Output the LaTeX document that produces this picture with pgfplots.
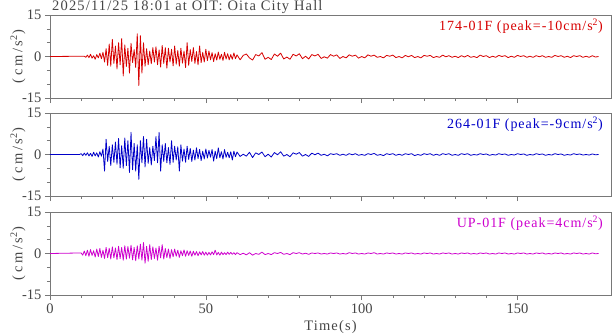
\documentclass[border=0pt]{standalone}
\usepackage{pgfplots}
\pgfplotsset{compat=1.18}
\usepackage{fontspec}
\setmainfont{Liberation Serif}
\newfontfamily\wide[LetterSpace=8]{Liberation Serif}
\newfontfamily\wider[LetterSpace=18]{Liberation Serif}
\newfontfamily\lab[LetterSpace=7]{Liberation Serif}
\definecolor{axgray}{RGB}{120,120,120}
\definecolor{txtgray}{RGB}{70,70,70}
\definecolor{sred}{RGB}{215,0,0}
\definecolor{sblue}{RGB}{0,0,200}
\definecolor{smag}{RGB}{205,0,205}

\pgfplotsset{
  seis/.style={
    width=561pt, height=83pt, scale only axis,
    anchor=north west,
    xmin=0, xmax=180, ymin=-15, ymax=15,
    xtick={0,50,100,150}, minor x tick num=4,
    ytick={-15,0,15}, yticklabels={-15,0,15}, minor y tick num=2,
    xtick pos=bottom, ytick pos=left,
    tick align=outside,
    major tick length=5pt, minor tick length=3pt,
    axis line style={axgray, line width=0.7pt},
    every tick/.style={axgray, line width=0.6pt},
    tick label style={txtgray, font=\fontsize{14.5}{16}\selectfont},
    ylabel={(cm/s\textsuperscript{2})},
    ylabel style={txtgray, font=\wider\fontsize{14.5}{16}\selectfont,
      at={(axis description cs:-0.057,0.5)}, anchor=center},
    clip=false,
  },
}
\tikzset{
  trace/.style={line width=0.8pt, line join=round},
  tag/.style={anchor=north east, font=\lab\fontsize{14}{16}\selectfont, inner sep=0},
}

\begin{document}
\begin{tikzpicture}
% top panel: 174-01F
\begin{axis}[seis, at={(0,0)}, xticklabels={}]
\addplot[trace, sred] coordinates {
(0,0)(11,0.1)(11.5,-0.3)(12,0.5)(12.5,-0.4)(13,0.8)(13.5,-0.6)(14,0.3)(14.5,-1.0)(15,0.7)(15.5,-0.5)(16,1.2)(16.5,-0.8)
(17,1.5)(17.5,-2.0)(18,2.8)(18.5,-3.2)(19,4.5)(19.5,-3.5)(20,6.2)(20.5,-2.5)(21,3.8)(21.5,-4.5)(22,5.0)(22.5,-3.0)
(23,6.5)(23.5,-7.0)(24,4.2)(24.5,-3.6)(25,3.0)(25.5,-6.0)(26,4.8)(26.5,-2.2)(27,2.5)(27.5,-4.0)(28,8.2)(28.5,-10.5)
(29,7.5)(29.5,-6.0)(30,5.0)(30.5,-3.5)(31,2.8)(31.5,-3.0)(32,2.0)(32.5,-2.6)(33,3.2)(33.5,-2.0)(34,3.5)(34.5,-3.0)
(35,2.4)(35.5,-3.8)(36,4.0)(36.5,-2.5)(37,3.2)(37.5,-4.2)(38,3.0)(38.5,-2.0)(39,2.6)(39.5,-3.4)(40,3.8)(40.5,-2.8)
(41,2.2)(41.5,-3.5)(42,3.0)(42.5,-2.4)(43,2.0)(43.5,-4.0)(44,5.0)(44.5,-3.2)(45,2.5)(45.5,-1.8)(46,3.2)(46.5,-2.5)
(47,1.8)(47.5,-3.0)(48,3.8)(48.5,-2.2)(49,1.5)(49.5,-2.0)(50,2.6)(50.5,-1.5)(51,2.0)(51.5,-1.2)(52,1.4)(52.5,-1.8)
(53,1.0)(53.5,-1.3)(54,1.6)(54.5,-1.0)(55,0.8)(55.5,-1.4)(56,1.5)(56.5,-0.9)(57,1.0)(57.5,-1.2)(58,0.7)(58.5,-1.0)
(59,1.3)(59.5,-0.8)(60,0.6)
(61,-1.2)(62,0.4)(63,0.9)(64,-0.5)(65,-1.3)(66,0.7)(67,0.2)(68,1.4)(69,-1.0)(70,-0.3)(71,-1.1)(72,0.9)(73,0.1)
(74,1.2)(75,-0.9)(76,-0.2)(77,-1.0)(78,0.8)(79,0.2)(80,1.0)(81,-0.8)(82,0.1)(83,-0.9)(84,0.7)(85,0.2)(86,0.8)
(87,-0.7)(88,-0.1)(89,-0.6)(90,0.7)(91,0.1)(92,0.6)(93,-0.7)(94,0.0)(95,-0.5)(96,0.6)(97,0.1)(98,0.5)(99,-0.6)
(100,0.0)(101,-0.5)(102,0.6)(103,0.1)(104,0.5)(105,-0.3)(106,0.0)(107,-0.5)(108,0.4)(109,0.1)(110,0.5)(111,-0.4)
(112,0.0)(113,-0.5)(114,0.4)(115,-0.1)(116,0.4)(117,-0.4)(118,0.0)(119,-0.5)(120,0.4)(121,0.1)(122,0.4)(123,-0.4)
(124,0.0)(125,-0.3)(126,0.5)(127,-0.1)(128,0.3)(129,-0.3)(130,0.1)(131,-0.4)(132,0.3)(133,-0.2)(134,0.4)(135,-0.3)
(136,0.0)(137,-0.4)(138,0.5)(139,0.0)(140,0.3)(141,-0.4)(142,0.1)(143,-0.3)(144,0.4)(145,0.0)(146,0.3)(147,-0.4)
(148,0.1)(149,-0.3)(150,0.4)(151,0.0)(152,0.3)(153,-0.3)(154,0.1)(155,-0.3)(156,0.3)(157,-0.1)(158,0.3)(159,-0.3)
(160,0.0)(161,-0.3)(162,0.4)(163,0.0)(164,0.3)(165,-0.3)(166,0.1)(167,-0.4)(168,0.3)(169,0.0)(170,0.3)(171,-0.3)
(172,0.1)(173,-0.3)(174,0.3)(175,-0.2)(176,0.0)
};
\node[anchor=base west, txtgray, font=\wide\fontsize{14.5}{16}\selectfont, inner sep=0]
  at (axis description cs:0,1) [xshift=2pt, yshift=4pt] {2025/11/25 18:01 at OIT: Oita City Hall};
\node[tag, sred] at (axis description cs:1,1) [xshift=-8pt, yshift=-4pt]
  {174-01F (peak=-10cm/s\textsuperscript{2})};
\end{axis}

% middle panel: 264-01F
\begin{axis}[seis, at={(0,-98pt)}, xticklabels={}]
\addplot[trace, sblue] coordinates {
(0,0)(9.5,0)(10,0.3)(10.5,-0.4)(11,0.5)(11.5,-0.3)(12,0.6)(12.5,-0.5)(13,0.4)(13.5,-0.7)(14,0.8)(14.5,-0.5)(15,0.6)
(15.5,-0.9)(16,1.0)(16.5,-0.6)(17,2.0)(17.5,-6.0)(18,5.5)(18.5,-2.5)(19,3.0)(19.5,-4.0)(20,3.5)(20.5,-2.8)(21,4.5)
(21.5,-3.5)(22,5.8)(22.5,-4.8)(23,3.2)(23.5,-5.0)(24,6.0)(24.5,-4.0)(25,5.0)(25.5,-6.5)(26,8.0)(26.5,-5.5)(27,4.0)
(27.5,-6.0)(28,3.5)(28.5,-9.0)(29,5.0)(29.5,-3.0)(30,6.5)(30.5,-4.5)(31,5.5)(31.5,-3.2)(32,2.5)(32.5,-3.8)(33,3.0)
(33.5,-2.2)(34,6.5)(34.5,-3.0)(35,8.0)(35.5,-6.0)(36,3.5)(36.5,-2.5)(37,4.0)(37.5,-3.0)(38,2.5)(38.5,-3.6)(39,5.0)
(39.5,-2.8)(40,3.0)(40.5,-2.0)(41,2.8)(41.5,-6.0)(42,3.5)(42.5,-2.4)(43,2.0)(43.5,-2.8)(44,3.0)(44.5,-1.8)(45,2.2)
(45.5,-2.5)(46,1.6)(46.5,-2.0)(47,2.4)(47.5,-1.5)(48,1.8)(48.5,-2.2)(49,1.2)(49.5,-1.6)(50,2.0)(50.5,-1.3)(51,1.5)
(51.5,-1.0)(52,1.8)(52.5,-2.4)(53,1.2)(53.5,-1.5)(54,2.4)(54.5,-1.2)(55,1.0)(55.5,-1.6)(56,1.8)(56.5,-1.0)(57,0.8)
(57.5,-1.2)(58,1.0)(58.5,-2.0)(59,1.2)(59.5,-0.8)(60,0.9)
(61,-0.7)(62,0.1)(63,-0.6)(64,0.8)(65,-1.1)(66,0.6)(67,0.0)(68,0.9)(69,-0.8)(70,0.1)(71,-0.9)(72,0.7)(73,-0.1)
(74,1.0)(75,-0.6)(76,0.0)(77,-0.8)(78,0.6)(79,0.1)(80,0.7)(81,-0.6)(82,0.0)(83,-0.7)(84,0.5)(85,-0.1)(86,0.5)
(87,-0.3)(88,0.1)(89,-0.5)(90,0.3)(91,0.0)(92,0.3)(93,-0.3)(94,0.1)(95,-0.3)(96,0.3)(97,-0.1)(98,0.3)(99,-0.3)
(100,0.0)(101,-0.3)(102,0.3)(103,0.0)(104,0.4)(105,-0.3)(106,0.0)(107,-0.4)(108,0.3)(109,0.0)(110,0.3)(111,-0.3)
(112,0.1)(113,-0.3)(114,0.3)(115,0.0)(116,0.3)(117,-0.4)(118,0.0)(119,-0.3)(120,0.3)(121,0.0)(122,0.3)(123,-0.3)
(124,0.1)(125,-0.3)(126,0.3)(127,0.0)(128,0.3)(129,-0.3)(130,0.0)(131,-0.3)(132,0.3)(133,0.0)(134,0.3)(135,-0.3)
(136,0.0)(137,-0.2)(138,0.3)(139,0.0)(140,0.2)(141,-0.3)(142,0.0)(143,-0.2)(144,0.3)(145,0.0)(146,0.2)(147,-0.3)
(148,0.0)(149,-0.2)(150,0.3)(151,0.0)(152,0.2)(153,-0.3)(154,0.0)(155,-0.2)(156,0.3)(157,0.0)(158,0.2)(159,-0.3)
(160,0.0)(161,-0.2)(162,0.3)(163,0.0)(164,0.2)(165,-0.3)(166,0.0)(167,-0.2)(168,0.3)(169,0.0)(170,0.2)(171,-0.2)
(172,0.0)(173,-0.2)(174,0.2)(175,-0.1)(176,0.0)
};
\node[tag, sblue] at (axis description cs:1,1) [xshift=-8pt, yshift=-4pt]
  {264-01F (peak=-9cm/s\textsuperscript{2})};
\end{axis}

% bottom panel: UP-01F
\begin{axis}[seis, at={(0,-197pt)}, xticklabels={0,50,100,150},
  xlabel={Time(s)}, xlabel style={txtgray, font=\wide\fontsize{14.5}{16}\selectfont}]
\addplot[trace, smag] coordinates {
(0,0)(10,0.2)(10.5,-0.6)(11,0.9)(11.5,-0.8)(12,1.2)(12.5,-1.0)(13,1.4)(13.5,-0.7)(14,1.0)(14.5,-1.3)(15,1.6)(15.5,-1.1)
(16,1.8)(16.5,-1.4)(17,1.2)(17.5,-1.8)(18,2.2)(18.5,-1.5)(19,1.9)(19.5,-2.0)(20,2.4)(20.5,-1.6)(21,2.0)(21.5,-2.2)
(22,2.6)(22.5,-1.8)(23,2.2)(23.5,-2.4)(24,2.8)(24.5,-2.0)(25,2.5)(25.5,-1.7)(26,3.0)(26.5,-2.3)(27,2.2)(27.5,-2.6)
(28,2.8)(28.5,-2.0)(29,3.4)(29.5,-2.4)(30,4.0)(30.5,-3.5)(31,2.6)(31.5,-2.8)(32,3.2)(32.5,-2.2)(33,2.4)(33.5,-1.8)
(34,2.0)(34.5,-2.4)(35,2.6)(35.5,-1.6)(36,3.2)(36.5,-2.0)(37,1.8)(37.5,-1.5)(38,1.6)(38.5,-1.8)(39,1.4)(39.5,-1.2)
(40,1.6)(40.5,-1.0)(41,1.2)(41.5,-1.4)(42,1.0)(42.5,-0.8)(43,1.3)(43.5,-1.0)(44,1.0)(44.5,-0.7)(45,0.9)(45.5,-1.0)
(46,0.8)(46.5,-0.6)(47,0.7)(47.5,-0.8)(48,0.6)(48.5,-0.5)(49,0.7)(49.5,-0.6)(50,0.5)(50.5,-0.6)(51,0.4)(51.5,-0.5)
(52,0.6)(52.5,-0.4)(53,1.2)(53.5,-0.5)(54,0.4)(54.5,-0.6)(55,0.5)(55.5,-0.4)(56,0.3)(56.5,-0.4)(57,0.5)(57.5,-0.3)
(58,0.4)(58.5,-0.3)(59,0.3)(59.5,-0.4)(60,0.3)
(61,-0.4)(62,0.1)(63,-0.5)(64,0.3)(65,-0.6)(66,0.0)(67,-0.3)(68,0.5)(69,-0.4)(70,0.0)(71,-0.4)(72,0.3)(73,0.0)
(74,0.4)(75,-0.3)(76,0.0)(77,-0.4)(78,0.3)(79,0.0)(80,0.3)(81,-0.2)(82,0.1)(83,-0.3)(84,0.2)(85,0.0)(86,0.2)
(87,-0.2)(88,0.0)(89,-0.2)(90,0.2)(91,0.0)(92,0.2)(93,-0.2)(94,0.0)(95,-0.2)(96,0.3)(97,0.0)(98,0.2)(99,-0.2)
(100,0.0)(101,-0.2)(102,0.2)(103,0.0)(104,0.3)(105,-0.2)(106,0.0)(107,-0.2)(108,0.2)(109,0.0)(110,0.2)(111,-0.2)
(112,0.0)(113,-0.2)(114,0.2)(115,0.0)(116,0.2)(117,-0.2)(118,0.0)(119,-0.2)(120,0.2)(121,0.0)(122,0.2)(123,-0.2)
(124,0.0)(125,-0.2)(126,0.2)(127,0.0)(128,0.2)(129,-0.2)(130,0.0)(131,-0.2)(132,0.2)(133,0.0)(134,0.2)(135,-0.2)
(136,0.0)(137,-0.2)(138,0.2)(139,0.0)(140,0.2)(141,-0.2)(142,0.0)(143,-0.2)(144,0.2)(145,0.0)(146,0.2)(147,-0.2)
(148,0.0)(149,-0.2)(150,0.2)(151,0.0)(152,0.2)(153,-0.2)(154,0.0)(155,-0.2)(156,0.2)(157,0.0)(158,0.2)(159,-0.2)
(160,0.0)(161,-0.2)(162,0.2)(163,0.0)(164,0.2)(165,-0.2)(166,0.0)(167,-0.2)(168,0.2)(169,0.0)(170,0.2)(171,-0.2)
(172,0.0)(173,-0.2)(174,0.2)(175,-0.1)(176,0.0)
};
\node[tag, smag] at (axis description cs:1,1) [xshift=-8pt, yshift=-4pt]
  {UP-01F (peak=4cm/s\textsuperscript{2})};
\end{axis}

\pgfresetboundingbox
\path[use as bounding box] (-50pt,-319pt) rectangle (563pt,15pt);
\end{tikzpicture}
\end{document}
